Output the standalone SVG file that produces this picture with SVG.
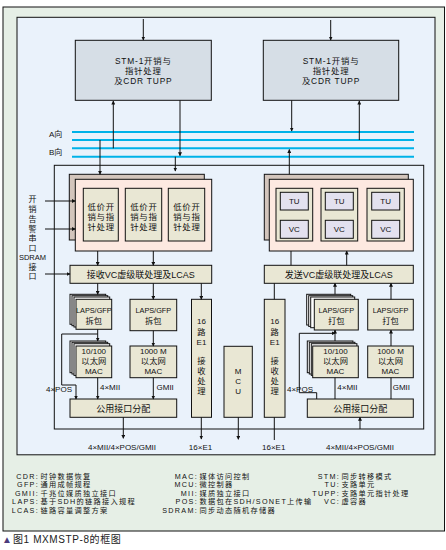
<svg xmlns="http://www.w3.org/2000/svg" width="446" height="550" viewBox="0 0 446 550">
<defs>
<style>
text{font-family:"Liberation Sans","Noto Sans CJK SC",sans-serif;fill:#111;}
.t9{font-size:9px;}
.t8{font-size:8px;}
.t85{font-size:8.3px;}
.sub{font-size:8.4px;letter-spacing:0.8px;}
.c{text-anchor:middle;}
.e{text-anchor:end;}
.box{stroke:#111;stroke-width:1;}
.stm{fill:#d6dee6;}
.beige{fill:#e9e7d4;}
.card{fill:#fde9e1;}
.back{fill:#d3c5bc;}
.lav{fill:#e3e1ef;}
.stk{fill:#fff;stroke:#111;stroke-width:1;}
.ln{stroke:#111;stroke-width:1;fill:none;}
.bus{stroke:#00b2e8;stroke-width:2;}
.leg{font-size:7.2px;letter-spacing:1.3px;}
</style>
<marker id="ah" markerWidth="4" markerHeight="4" refX="3.5" refY="2" orient="auto" markerUnits="userSpaceOnUse">
<path d="M0,0 L4,2 L0,4 z" fill="#111"/>
</marker>
</defs>

<!-- frames -->
<rect x="3" y="7" width="441.5" height="524" fill="#e6efe6" stroke="#111" stroke-width="1"/>
<rect x="17" y="17.3" width="418" height="437.5" fill="#eaf2fb" stroke="#111" stroke-width="1"/>
<rect x="54.3" y="165.3" width="369.4" height="263.7" fill="none" stroke="#111" stroke-width="1"/>

<!-- buses -->
<g id="bus">
<line class="bus" x1="72" y1="132" x2="414" y2="132"/>
<line class="bus" x1="72" y1="140" x2="414" y2="140"/>
<line class="bus" x1="72" y1="148.3" x2="414" y2="148.3" stroke-width="1.5"/>
<line class="bus" x1="72" y1="156.7" x2="414" y2="156.7"/>
<text class="t8" x="49" y="137">A向</text>
<text class="t8" x="49" y="155">B向</text>
</g>

<g id="stm-left">
<rect class="box stm" x="75.3" y="40.3" width="136" height="60"/>
<text class="sub c" x="143.3" y="63.5">STM-1开销与</text>
<text class="sub c" x="143.3" y="73.5">指针处理</text>
<text class="sub c" x="143.3" y="83.5">及CDR TUPP</text>
</g>
<g id="stm-right">
<rect class="box stm" x="263.3" y="40.3" width="135.4" height="60"/>
<text class="sub c" x="331" y="63.5">STM-1开销与</text>
<text class="sub c" x="331" y="73.5">指针处理</text>
<text class="sub c" x="331" y="83.5">及CDR TUPP</text>
</g>

<!-- left side labels -->
<g id="side-labels">
<text class="t8 c" x="32.5" y="202">开</text>
<text class="t8 c" x="32.5" y="212">销</text>
<text class="t8 c" x="32.5" y="222">告</text>
<text class="t8 c" x="32.5" y="231.5">警</text>
<text class="t8 c" x="32.5" y="241">串</text>
<text class="t8 c" x="32.5" y="250.5">口</text>
<text class="c" x="32.5" y="260" style="font-size:7.5px">SDRAM</text>
<text class="t8 c" x="32.5" y="269.5">接</text>
<text class="t8 c" x="32.5" y="279">口</text>
</g>

<!-- left card stack -->
<g id="rx-card">
<rect class="box back" x="69.3" y="174.3" width="135" height="65.7"/>
<rect class="box card" x="75.3" y="179.3" width="136.4" height="71.7"/>
</g>
<g id="rx-oh1">
<rect class="box beige" x="83.3" y="188.3" width="35" height="52.7"/>
<text class="sub c" x="101.2" y="209.5">低价开</text>
<text class="sub c" x="101.2" y="219.5">销与指</text>
<text class="sub c" x="101.2" y="229.5">针处理</text>
</g>
<g id="rx-oh2">
<rect class="box beige" x="125.3" y="188.3" width="36.4" height="52.7"/>
<text class="sub c" x="143.9" y="209.5">低价开</text>
<text class="sub c" x="143.9" y="219.5">销与指</text>
<text class="sub c" x="143.9" y="229.5">针处理</text>
</g>
<g id="rx-oh3">
<rect class="box beige" x="168.3" y="188.3" width="36.4" height="52.7"/>
<text class="sub c" x="186.9" y="209.5">低价开</text>
<text class="sub c" x="186.9" y="219.5">销与指</text>
<text class="sub c" x="186.9" y="229.5">针处理</text>
</g>

<!-- right card stack -->
<g id="tx-card">
<rect class="box back" x="264.3" y="174.3" width="144" height="65.7"/>
<rect class="box card" x="269.3" y="179.3" width="144" height="71.7"/>
</g>
<g id="tx-tu1">
<rect class="box beige" x="276" y="188.3" width="36.7" height="52.7"/>
<rect class="box lav" x="280.3" y="192.3" width="28" height="17.7"/>
<rect class="box lav" x="280.3" y="220.3" width="28" height="18"/>
<text class="t8 c" x="294.3" y="204">TU</text>
<text class="t8 c" x="294.3" y="232.3">VC</text>
</g>
<g id="tx-tu2">
<rect class="box beige" x="321" y="188.3" width="36.7" height="52.7"/>
<rect class="box lav" x="325.3" y="192.3" width="28" height="17.7"/>
<rect class="box lav" x="325.3" y="220.3" width="28" height="18"/>
<text class="t8 c" x="339.3" y="204">TU</text>
<text class="t8 c" x="339.3" y="232.3">VC</text>
</g>
<g id="tx-tu3">
<rect class="box beige" x="367" y="188.3" width="37.3" height="52.7"/>
<rect class="box lav" x="371.7" y="192.3" width="28" height="17.7"/>
<rect class="box lav" x="371.7" y="220.3" width="28" height="18"/>
<text class="t8 c" x="385.7" y="204">TU</text>
<text class="t8 c" x="385.7" y="232.3">VC</text>
</g>

<g id="rx-vc">
<rect class="box beige" x="70" y="265.3" width="141.7" height="18"/>
<text class="t9 c" x="140.8" y="277.5">接收VC虚级联处理及LCAS</text>
</g>
<g id="tx-vc">
<rect class="box beige" x="264.3" y="265.3" width="149" height="18"/>
<text class="t9 c" x="338.8" y="277.5">发送VC虚级联处理及LCAS</text>
</g>

<!-- lower left -->
<g id="rx-laps1">
<rect class="stk" x="70" y="294.3" width="35.7" height="30"/>
<rect class="stk" x="72" y="295.7" width="35.7" height="30"/>
<rect class="stk" x="74" y="297" width="35.7" height="30"/>
<rect class="box beige" x="76" y="299.3" width="35.7" height="30"/>
<text class="c" x="93.8" y="313" style="font-size:7.3px">LAPS/GFP</text>
<text class="t85 c" x="93.8" y="324">拆包</text>
</g>
<g id="rx-laps2">
<rect class="box beige" x="130" y="299.3" width="46.7" height="31.4"/>
<text class="c" x="153.3" y="313" style="font-size:7.3px">LAPS/GFP</text>
<text class="t85 c" x="153.3" y="324">拆包</text>
</g>
<g id="rx-mac1">
<rect class="stk" x="70" y="341" width="35.7" height="31.7"/>
<rect class="stk" x="72" y="342.3" width="35.7" height="31.7"/>
<rect class="stk" x="74" y="343.7" width="35.7" height="31.7"/>
<rect class="box beige" x="76" y="346" width="35.7" height="31.7"/>
<text class="t8 c" x="93.8" y="354">10/100</text>
<text class="t85 c" x="93.8" y="364.3">以太网</text>
<text class="t8 c" x="93.8" y="374">MAC</text>
</g>
<g id="rx-mac2">
<rect class="box beige" x="130" y="346" width="46.7" height="31.7"/>
<text class="t8 c" x="153.3" y="354">1000 M</text>
<text class="t85 c" x="153.3" y="364.3">以太网</text>
<text class="t8 c" x="153.3" y="374">MAC</text>
</g>
<g id="rx-if">
<rect class="box beige" x="70" y="399" width="106.7" height="18.3"/>
<text class="t9 c" x="123.3" y="411.5">公用接口分配</text>
</g>
<g id="rx-e1">
<rect class="box beige" x="191.5" y="299.3" width="20" height="118"/>
<text class="t8 c" x="201.5" y="324">16</text>
<text class="t85 c" x="201.5" y="335">路</text>
<text class="t8 c" x="201.5" y="344.5">E1</text>
<text class="t85 c" x="201.5" y="364">接</text>
<text class="t85 c" x="201.5" y="374">收</text>
<text class="t85 c" x="201.5" y="383.5">处</text>
<text class="t85 c" x="201.5" y="393.5">理</text>
</g>
<g id="mcu">
<rect class="box beige" x="224" y="346.3" width="28.3" height="71"/>
<text class="t8 c" x="238.2" y="373.5">M</text>
<text class="t8 c" x="238.2" y="384">C</text>
<text class="t8 c" x="238.2" y="394">U</text>
</g>
<g id="tx-e1">
<rect class="box beige" x="264.3" y="299.3" width="20.7" height="118"/>
<text class="t8 c" x="274.7" y="324">16</text>
<text class="t85 c" x="274.7" y="335">路</text>
<text class="t8 c" x="274.7" y="344.5">E1</text>
<text class="t85 c" x="274.7" y="364">接</text>
<text class="t85 c" x="274.7" y="374">收</text>
<text class="t85 c" x="274.7" y="383.5">处</text>
<text class="t85 c" x="274.7" y="393.5">理</text>
</g>

<!-- lower right -->
<g id="tx-laps1">
<rect class="stk" x="306.7" y="294.3" width="44" height="30.7"/>
<rect class="stk" x="308.7" y="295.7" width="44" height="30.7"/>
<rect class="stk" x="310.7" y="297" width="44" height="30.7"/>
<rect class="box beige" x="314.3" y="299.3" width="44" height="30.7"/>
<text class="c" x="336.3" y="313" style="font-size:7.3px">LAPS/GFP</text>
<text class="t85 c" x="336.3" y="324">打包</text>
</g>
<g id="tx-laps2">
<rect class="box beige" x="367.7" y="299.3" width="45.6" height="30.7"/>
<text class="c" x="390.5" y="313" style="font-size:7.3px">LAPS/GFP</text>
<text class="t85 c" x="390.5" y="324">打包</text>
</g>
<g id="tx-mac1">
<rect class="stk" x="307.3" y="341" width="45.6" height="31.7"/>
<rect class="stk" x="309.3" y="342.3" width="45.6" height="31.7"/>
<rect class="stk" x="311.3" y="343.7" width="45.6" height="31.7"/>
<rect class="box beige" x="312.7" y="346" width="45.6" height="31.7"/>
<text class="t8 c" x="335.5" y="354">10/100</text>
<text class="t85 c" x="335.5" y="364.3">以太网</text>
<text class="t8 c" x="335.5" y="374">MAC</text>
</g>
<g id="tx-mac2">
<rect class="box beige" x="367.7" y="346" width="45.6" height="31.7"/>
<text class="t8 c" x="390.5" y="354">1000 M</text>
<text class="t85 c" x="390.5" y="364.3">以太网</text>
<text class="t8 c" x="390.5" y="374">MAC</text>
</g>
<g id="tx-if">
<rect class="box beige" x="307.3" y="399" width="106" height="18.3"/>
<text class="t9 c" x="360.3" y="411.5">公用接口分配</text>
</g>

<!-- connectors -->
<g id="connectors">
<line class="ln" x1="143.3" y1="19" x2="143.3" y2="40" marker-end="url(#ah)"/>
<line class="ln" x1="330.7" y1="20" x2="330.7" y2="40" marker-end="url(#ah)"/>
<line class="ln" x1="113.3" y1="148.3" x2="113.3" y2="101" marker-end="url(#ah)"/>
<line class="ln" x1="180" y1="100.3" x2="180" y2="155.7" marker-end="url(#ah)"/>
<line class="ln" x1="291.7" y1="100.3" x2="291.7" y2="131" marker-end="url(#ah)"/>
<line class="ln" x1="359.3" y1="140" x2="359.3" y2="101" marker-end="url(#ah)"/>
<line class="ln" x1="100" y1="140" x2="100" y2="174.3" marker-end="url(#ah)"/>
<line class="ln" x1="175.3" y1="156.7" x2="175.3" y2="171" marker-end="url(#ah)"/>
<line class="ln" x1="289.3" y1="174.3" x2="289.3" y2="149.5" marker-end="url(#ah)"/>
<line class="ln" x1="45" y1="201" x2="75.3" y2="201" marker-end="url(#ah)"/>
<line class="ln" x1="45" y1="229" x2="75.3" y2="229" marker-end="url(#ah)"/>
<line class="ln" x1="45" y1="274" x2="70" y2="274" marker-end="url(#ah)"/>
<line class="ln" x1="97.7" y1="251" x2="97.7" y2="265.3" marker-end="url(#ah)"/>
<line class="ln" x1="153.3" y1="251" x2="153.3" y2="265.3" marker-end="url(#ah)"/>
<line class="ln" x1="291" y1="265.3" x2="291" y2="251"/>
<line class="ln" x1="346.7" y1="265.3" x2="346.7" y2="251" marker-end="url(#ah)"/>
<line class="ln" x1="97.7" y1="283.3" x2="97.7" y2="294.3" marker-end="url(#ah)"/>
<line class="ln" x1="153.3" y1="283.3" x2="153.3" y2="299.3" marker-end="url(#ah)"/>
<line class="ln" x1="201.3" y1="283.3" x2="201.3" y2="299.3" marker-end="url(#ah)"/>
<line class="ln" x1="274.3" y1="283.3" x2="274.3" y2="299.3"/>
<line class="ln" x1="335" y1="294.3" x2="335" y2="283.3" marker-end="url(#ah)"/>
<line class="ln" x1="391" y1="299.3" x2="391" y2="283.3" marker-end="url(#ah)"/>
<line class="ln" x1="97.7" y1="329.3" x2="97.7" y2="341" marker-end="url(#ah)"/>
<path class="ln" d="M97.7,334 H61.7 V385 H76 V399" marker-end="url(#ah)"/>
<line class="ln" x1="153.3" y1="330.7" x2="153.3" y2="346" marker-end="url(#ah)"/>
<line class="ln" x1="97.7" y1="377.7" x2="97.7" y2="399" marker-end="url(#ah)"/>
<line class="ln" x1="153.3" y1="377.7" x2="153.3" y2="399" marker-end="url(#ah)"/>
<line class="ln" x1="123.3" y1="417.3" x2="123.3" y2="438.3" marker-end="url(#ah)"/>
<line class="ln" x1="201.3" y1="417.3" x2="201.3" y2="439" marker-end="url(#ah)"/>
<line class="ln" x1="238.3" y1="417.3" x2="238.3" y2="439.3" marker-end="url(#ah)"/>
<line class="ln" x1="274.3" y1="417.3" x2="274.3" y2="440"/>
<path class="ln" d="M316.7,399 V392.7 H299.3 V333.3 H335" marker-end="url(#ah)"/>
<line class="ln" x1="335" y1="341" x2="335" y2="330" marker-end="url(#ah)"/>
<line class="ln" x1="391" y1="346" x2="391" y2="330" marker-end="url(#ah)"/>
<line class="ln" x1="335" y1="399" x2="335" y2="377.7"/>
<line class="ln" x1="391" y1="399" x2="391" y2="377.7"/>
<line class="ln" x1="360" y1="429" x2="360" y2="417.3" marker-end="url(#ah)"/>
</g>

<!-- interface labels -->
<g id="if-labels">
<text class="t8" x="46" y="392">4×POS</text>
<text class="t8" x="100" y="390">4×MII</text>
<text class="t8" x="156.5" y="390">GMII</text>
<text class="t8" x="287" y="392">4×POS</text>
<text class="t8" x="337.3" y="390">4×MII</text>
<text class="t8" x="392.7" y="390">GMII</text>
<text class="t8 c" x="122" y="449.5">4×MII/4×POS/GMII</text>
<text class="t8 c" x="200.5" y="449.5">16×E1</text>
<text class="t8 c" x="273.7" y="449.5">16×E1</text>
<text class="t8 c" x="360" y="449.5">4×MII/4×POS/GMII</text>
</g>

<!-- legend -->
<g id="legend">
<text class="leg"><tspan class="e" x="39" y="478.5">CDR:</tspan><tspan x="40.5">时钟数据恢复</tspan></text>
<text class="leg"><tspan class="e" x="39" y="487.1">GFP:</tspan><tspan x="40.5">通用成帧规程</tspan></text>
<text class="leg"><tspan class="e" x="39" y="495.7">GMII:</tspan><tspan x="40.5">千兆位媒质独立接口</tspan></text>
<text class="leg"><tspan class="e" x="39" y="504.3">LAPS:</tspan><tspan x="40.5">基于SDH的链路接入规程</tspan></text>
<text class="leg"><tspan class="e" x="39" y="512.9">LCAS:</tspan><tspan x="40.5">链路容量调整方案</tspan></text>
<text class="leg"><tspan class="e" x="198" y="478.5">MAC:</tspan><tspan x="199.5">媒体访问控制</tspan></text>
<text class="leg"><tspan class="e" x="198" y="487.1">MCU:</tspan><tspan x="199.5">微控制器</tspan></text>
<text class="leg"><tspan class="e" x="198" y="495.7">MII:</tspan><tspan x="199.5">媒质独立接口</tspan></text>
<text class="leg"><tspan class="e" x="198" y="504.3">POS:</tspan><tspan x="199.5">数据包在SDH/SONET上传输</tspan></text>
<text class="leg"><tspan class="e" x="198" y="512.9">SDRAM:</tspan><tspan x="199.5">同步动态随机存储器</tspan></text>
<text class="leg"><tspan class="e" x="340" y="478.5">STM:</tspan><tspan x="341.5">同步转移模式</tspan></text>
<text class="leg"><tspan class="e" x="340" y="487.1">TU:</tspan><tspan x="341.5">支路单元</tspan></text>
<text class="leg"><tspan class="e" x="340" y="495.7">TUPP:</tspan><tspan x="341.5">支路单元指针处理</tspan></text>
<text class="leg"><tspan class="e" x="340" y="504.3">VC:</tspan><tspan x="341.5">虚容器</tspan></text>
</g>

<g id="caption">
<text x="2" y="543" style="font-size:10px;fill:#4b3b7c">▲</text>
<text x="13" y="543" style="font-size:10px;fill:#222;letter-spacing:0.6px">图1  MXMSTP-8的框图</text>
</g>
</svg>
